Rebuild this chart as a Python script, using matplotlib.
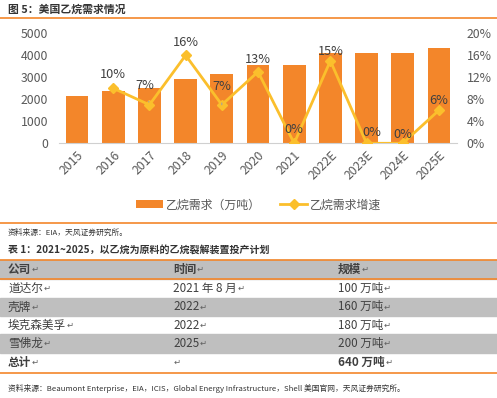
import matplotlib
matplotlib.use("Agg")
import matplotlib.pyplot as plt
from matplotlib.patches import Rectangle
from matplotlib.lines import Line2D

plt.rcParams['font.family'] = ['Noto Sans CJK SC', 'DejaVu Sans']

# data
years = ["2015", "2016", "2017", "2018", "2019", "2020", "2021",
         "2022E", "2023E", "2024E", "2025E"]
demand = [2150, 2370, 2530, 2940, 3150, 3560, 3560, 4090, 4090, 4090, 4330]
growth_years = years[1:]
growth = [10, 7, 16, 7, 13, 0, 15, 0, 0, 6]

companies = ["道达尔", "壳牌", "埃克森美孚", "雪佛龙"]
start_time = ["2021 年 8 月", "2022", "2022", "2025"]
capacity = [100, 160, 180, 200]
total_capacity = 640

W, H = 497, 398
ORANGE = "#F3862A"
LINE_Y = "#FBBF2C"
GREY_TXT = "#595959"
DARK = "#404040"

fig = plt.figure(figsize=(W / 100, H / 100), dpi=100)


def fx(px):
    return px / W


def fy(py):
    return 1 - py / H


def hline(py, color=ORANGE, lw=1.2):
    fig.add_artist(Line2D([0, 1], [fy(py), fy(py)], color=color, lw=lw,
                          transform=fig.transFigure))


# title + rule
fig.text(fx(8), fy(10), "图 5：美国乙烷需求情况", fontsize=7.8, fontweight="bold",
         color="#333333", va="center")
hline(18)

# chart
ax = fig.add_axes([fx(59), fy(143.3), fx(398), fy(33.3) - fy(143.3)])
x = list(range(len(years)))
ax.bar(x, demand, width=0.63, color=ORANGE, zorder=2, label="乙烷需求（万吨）")
ax.set_ylim(0, 5000)
ax.set_xlim(-0.5, len(years) - 0.5)
ax.set_yticks([0, 1000, 2000, 3000, 4000, 5000])
ax.set_xticks(x)
ax.set_xticklabels(years, rotation=45, ha="right", rotation_mode="anchor")
for s in ["top", "right", "left"]:
    ax.spines[s].set_visible(False)
ax.spines["bottom"].set_color("#D0D0D0")
ax.tick_params(length=0, labelsize=8.8, labelcolor=GREY_TXT)
ax.tick_params(axis="y", pad=8)
ax.tick_params(axis="x", pad=4)

ax2 = ax.twinx()
gx = x[1:]
ax2.plot(gx, growth, color=LINE_Y, lw=2, marker="D", ms=5.5, zorder=3,
         label="乙烷需求增速")
ax2.set_ylim(0, 20)
ax2.set_yticks([0, 4, 8, 12, 16, 20])
ax2.set_yticklabels([f"{v}%" for v in [0, 4, 8, 12, 16, 20]])
for s in ax2.spines.values():
    s.set_visible(False)
ax2.tick_params(length=0, labelsize=8.8, labelcolor=GREY_TXT, pad=7)

# label offsets in points (dx, dy)
offsets = [(0, 10), (-3, 14), (0, 9), (0, 13), (0, 9), (0, 10),
           (0, 7), (4, 8), (0, 6), (0, 7)]
for xi, g, (dx, dy) in zip(gx, growth, offsets):
    lead = g == 7
    ax2.annotate(f"{g}%", (xi, g), xytext=(dx, dy), textcoords="offset points",
                 ha="center", va="center", fontsize=9.2, color=DARK, zorder=5,
                 arrowprops=dict(arrowstyle="-", color="#A0A0A0", lw=0.8,
                                 shrinkA=5, shrinkB=2) if lead else None)

# legend
h1, l1 = ax.get_legend_handles_labels()
h2, l2 = ax2.get_legend_handles_labels()
fig.legend(h1 + h2, l1 + l2, loc="center", bbox_to_anchor=(fx(259), fy(205)),
           ncol=2, frameon=False, fontsize=8.6, labelcolor=GREY_TXT,
           handlelength=2.2, columnspacing=1.6, handletextpad=0.3)

hline(222.7)
fig.text(fx(8), fy(233), "资料来源：EIA，天风证券研究所。", fontsize=5.6,
         color="#333333", va="center")
fig.text(fx(8), fy(250), "表 1：2021~2025，以乙烷为原料的乙烷裂解装置投产计划",
         fontsize=7.2, fontweight="bold", color="#333333", va="center")

# table
rows = [("公司", "时间", "规模")]
for c, t, cap in zip(companies, start_time, capacity):
    rows.append((c, t, f"{cap} 万吨"))
rows.append(("总计", "", f"{total_capacity} 万吨"))
edges = [260.3, 279, 297.7, 316, 334.3, 352.7, 372.7]
col_x = [8, 173, 338]
cells = []
for i, row in enumerate(rows):
    top, bot = edges[i], edges[i + 1]
    if i % 2 == 0 and i < 5:
        fig.add_artist(Rectangle((0, fy(bot)), 1, fy(top) - fy(bot),
                                 transform=fig.transFigure, color="#BFBFBF",
                                 zorder=0))
    bold = i == 0 or i == len(rows) - 1
    for j, cell in enumerate(row):
        weight = "bold" if bold else "normal"
        t = fig.text(fx(col_x[j]), fy((top + bot) / 2), cell, fontsize=8.4,
                     fontweight=weight, color=DARK, va="center")
        cells.append((t, (top + bot) / 2))
hline(260.3)
hline(279)
hline(372.7)

# paragraph marks after each cell
fig.canvas.draw()
r = fig.canvas.get_renderer()
for t, yc in cells:
    if t.get_text():
        x1 = t.get_window_extent(r).x1
    else:
        x1 = t.get_window_extent(r).x0
    fig.text(x1 / W + fx(0.5), fy(yc), "↵", fontsize=6, color="#606060",
             va="center", family="DejaVu Sans")

fig.text(fx(8), fy(388),
         "资料来源：Beaumont Enterprise，EIA，ICIS，Global Energy Infrastructure，Shell 美国官网，天风证券研究所。",
         fontsize=5.6, color="#333333", va="center")

fig.savefig("out.png", dpi=100)
